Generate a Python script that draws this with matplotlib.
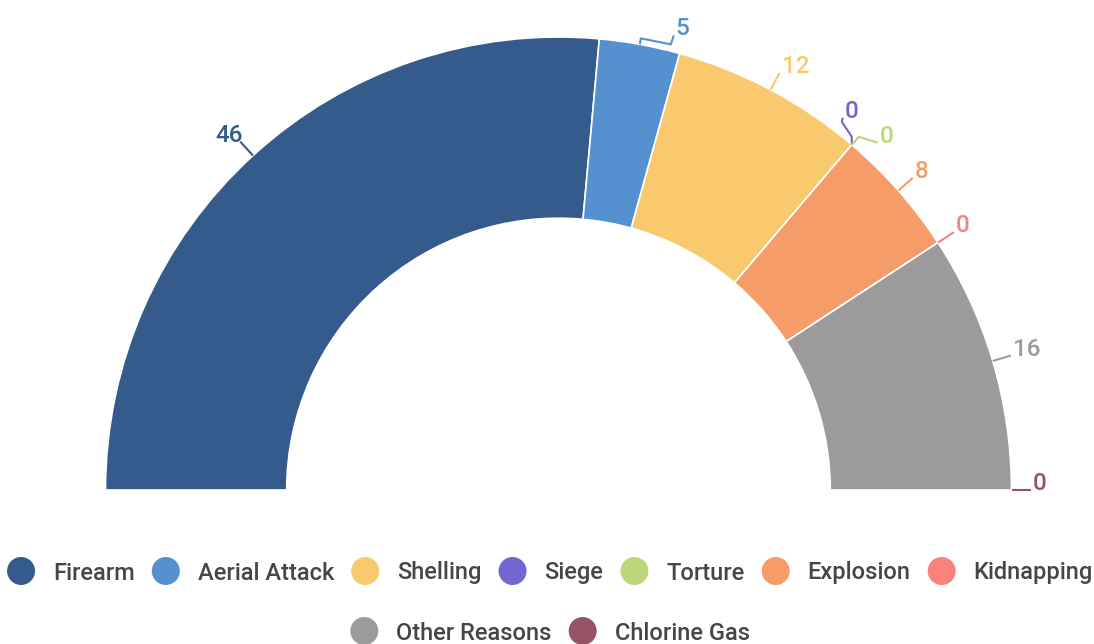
import numpy as np
import matplotlib.pyplot as plt
from matplotlib.patches import Wedge, Circle

plt.rcParams['font.family'] = ['Roboto', 'DejaVu Sans']

categories = ['Firearm', 'Aerial Attack', 'Shelling', 'Siege', 'Torture',
              'Explosion', 'Kidnapping', 'Other Reasons', 'Chlorine Gas']
values = [46, 5, 12, 0, 0, 8, 0, 16, 0]
colors = ['#345b8b', '#5591cf', '#f9c96d', '#7068d0', '#bbd77a',
          '#f59c69', '#f8837d', '#9b9b9b', '#955363']

W, H = 1094, 644
R = 453.0            # outer radius in pixels -> 1 data unit
cx, cy = 558.5, 490  # centre in pixels (from top)
inner = 0.6

fig = plt.figure(figsize=(W / 100, H / 100), dpi=100)
ax = fig.add_axes([0, 0, 1, 1])
ax.set_xlim(-cx / R, (W - cx) / R)
ax.set_ylim(-(H - cy) / R, cy / R)
ax.set_aspect('equal')
ax.axis('off')

total = sum(values)
bounds = 180 - np.concatenate([[0], np.cumsum(values)]) / total * 180

for i, v in enumerate(values):
    t1, t2 = bounds[i + 1], bounds[i]
    if v > 0:
        ax.add_patch(Wedge((0, 0), 1, t1, t2, width=1 - inner,
                           facecolor=colors[i], edgecolor='white', linewidth=1.2))

# leader lines: default radial, a few crowded labels are bent (offsets in px)
custom_paths = {
    1: [(0, 0), (1, 6), (31, 0), (34, 9)],
    3: [(0, 0), (0, 8), (-10, 23), (-9, 27)],
    4: [(0, 0), (7, 8), (26, 2)],
}
px = 1 / R
fs_lab = 17.5
for i, v in enumerate(values):
    mid = np.radians((bounds[i] + bounds[i + 1]) / 2)
    ax0, ay0 = np.cos(mid), np.sin(mid)
    if i in custom_paths:
        pts = [(ax0 + dx * px, ay0 + dy * px) for dx, dy in custom_paths[i]]
    else:
        pts = [(ax0, ay0), (ax0 * (1 + 19 * px), ay0 * (1 + 19 * px))]
    xs, ys = zip(*pts)
    ax.plot(xs, ys, color=colors[i], lw=1.5, solid_capstyle='butt')
    ex, ey = pts[-1]
    if ex < 0:
        ax.text(ex + 3 * px, ey, str(v), color=colors[i], fontsize=fs_lab,
                fontweight='medium', ha='right', va='baseline')
    else:
        ax.text(ex + 2 * px, ey, str(v), color=colors[i], fontsize=fs_lab,
                fontweight='medium', ha='left', va='baseline')

# legend, two centred rows
rows = [list(range(7)), [7, 8]]
row_y = [571, 631]
fig.canvas.draw()
renderer = fig.canvas.get_renderer()
marker_d, gap_mt, gap_item = 28, 18, 17
fs_leg = 17
for row, yp in zip(rows, row_y):
    widths = []
    for i in row:
        t = ax.text(0, 0, categories[i], fontsize=fs_leg, fontweight='medium')
        widths.append(t.get_window_extent(renderer).width)
        t.remove()
    total_w = sum(marker_d + gap_mt + w for w in widths) + gap_item * (len(row) - 1)
    x = 550 - total_w / 2
    y = -(yp - cy) / R
    for i, w in zip(row, widths):
        ax.add_patch(Circle(((x + marker_d / 2 - cx) / R, y), marker_d / 2 / R,
                            facecolor=colors[i], edgecolor='none'))
        ax.text((x + marker_d + gap_mt - cx) / R, y - 8.5 * px, categories[i],
                fontsize=fs_leg, fontweight='medium', color='#464646',
                ha='left', va='baseline')
        x += marker_d + gap_mt + w + gap_item

fig.savefig('out.png', dpi=100)
